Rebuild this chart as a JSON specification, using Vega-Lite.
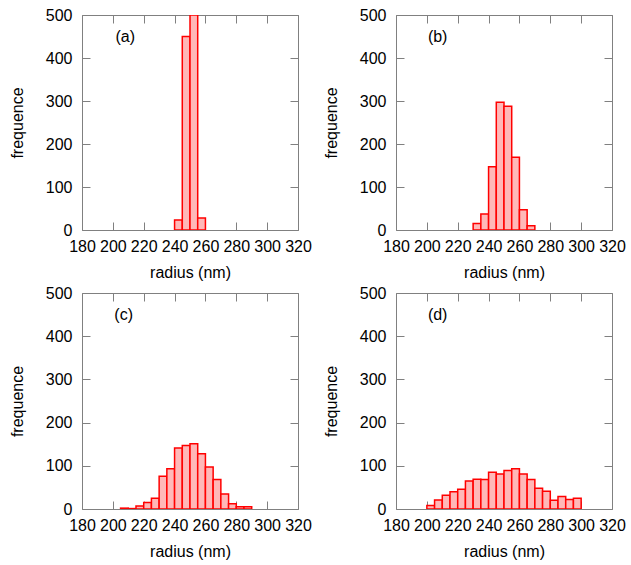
{
  "$schema": "https://vega.github.io/schema/vega-lite/v6.json",
  "background": "white",
  "padding": {"left": 8, "top": 6, "right": 2, "bottom": 5},
  "datasets": {
    "bars": [
      {"panel": "a", "lo": 240, "hi": 245, "count": 23},
      {"panel": "a", "lo": 245, "hi": 250, "count": 450},
      {"panel": "a", "lo": 250, "hi": 255, "count": 500},
      {"panel": "a", "lo": 255, "hi": 260, "count": 28},
      {"panel": "b", "lo": 230, "hi": 235, "count": 15},
      {"panel": "b", "lo": 235, "hi": 240, "count": 37},
      {"panel": "b", "lo": 240, "hi": 245, "count": 147},
      {"panel": "b", "lo": 245, "hi": 250, "count": 297},
      {"panel": "b", "lo": 250, "hi": 255, "count": 288},
      {"panel": "b", "lo": 255, "hi": 260, "count": 169},
      {"panel": "b", "lo": 260, "hi": 265, "count": 47},
      {"panel": "b", "lo": 265, "hi": 270, "count": 10},
      {"panel": "c", "lo": 205, "hi": 210, "count": 2},
      {"panel": "c", "lo": 210, "hi": 215, "count": 1},
      {"panel": "c", "lo": 215, "hi": 220, "count": 7},
      {"panel": "c", "lo": 220, "hi": 225, "count": 15},
      {"panel": "c", "lo": 225, "hi": 230, "count": 25},
      {"panel": "c", "lo": 230, "hi": 235, "count": 76},
      {"panel": "c", "lo": 235, "hi": 240, "count": 93},
      {"panel": "c", "lo": 240, "hi": 245, "count": 141},
      {"panel": "c", "lo": 245, "hi": 250, "count": 147},
      {"panel": "c", "lo": 250, "hi": 255, "count": 151},
      {"panel": "c", "lo": 255, "hi": 260, "count": 128},
      {"panel": "c", "lo": 260, "hi": 265, "count": 97},
      {"panel": "c", "lo": 265, "hi": 270, "count": 68},
      {"panel": "c", "lo": 270, "hi": 275, "count": 35},
      {"panel": "c", "lo": 275, "hi": 280, "count": 12},
      {"panel": "c", "lo": 280, "hi": 285, "count": 5},
      {"panel": "c", "lo": 285, "hi": 290, "count": 5},
      {"panel": "d", "lo": 200, "hi": 205, "count": 8},
      {"panel": "d", "lo": 205, "hi": 210, "count": 21},
      {"panel": "d", "lo": 210, "hi": 215, "count": 32},
      {"panel": "d", "lo": 215, "hi": 220, "count": 40},
      {"panel": "d", "lo": 220, "hi": 225, "count": 46},
      {"panel": "d", "lo": 225, "hi": 230, "count": 65},
      {"panel": "d", "lo": 230, "hi": 235, "count": 69},
      {"panel": "d", "lo": 235, "hi": 240, "count": 68},
      {"panel": "d", "lo": 240, "hi": 245, "count": 85},
      {"panel": "d", "lo": 245, "hi": 250, "count": 81},
      {"panel": "d", "lo": 250, "hi": 255, "count": 89},
      {"panel": "d", "lo": 255, "hi": 260, "count": 93},
      {"panel": "d", "lo": 260, "hi": 265, "count": 81},
      {"panel": "d", "lo": 265, "hi": 270, "count": 68},
      {"panel": "d", "lo": 270, "hi": 275, "count": 48},
      {"panel": "d", "lo": 275, "hi": 280, "count": 41},
      {"panel": "d", "lo": 280, "hi": 285, "count": 20},
      {"panel": "d", "lo": 285, "hi": 290, "count": 29},
      {"panel": "d", "lo": 290, "hi": 295, "count": 22},
      {"panel": "d", "lo": 295, "hi": 300, "count": 25}
    ],
    "labels": [
      {"panel": "a", "lx": 208, "ly": 450, "label": "(a)"},
      {"panel": "b", "lx": 207, "ly": 450, "label": "(b)"},
      {"panel": "c", "lx": 207, "ly": 450, "label": "(c)"},
      {"panel": "d", "lx": 207, "ly": 450, "label": "(d)"}
    ]
  },
  "columns": 2,
  "spacing": {"column": 10, "row": 3},
  "concat": [
    {
      "width": 216, "height": 215,
      "layer": [
        {
          "data": {"name": "bars"},
          "transform": [{"filter": "datum.panel == 'a'"}],
          "mark": {"type": "bar", "fill": "#ffb8b8", "stroke": "#ff0000", "strokeWidth": 1.5, "clip": true},
          "encoding": {
            "x": {"field": "lo", "type": "quantitative", "scale": {"domain": [180, 320], "nice": false, "zero": false}, "axis": {"orient": "bottom", "title": "radius (nm)", "values": [180, 200, 220, 240, 260, 280, 300, 320]}},
            "x2": {"field": "hi"},
            "y": {"field": "count", "type": "quantitative", "scale": {"domain": [0, 500], "nice": false}, "axis": {"orient": "left", "title": "frequence", "values": [0, 100, 200, 300, 400, 500]}},
            "y2": {"datum": 0}
          }
        },
        {
          "data": {"name": "bars"},
          "transform": [{"filter": "datum.panel == 'a'"}],
          "mark": {"type": "point", "opacity": 0},
          "encoding": {
            "x": {"field": "lo", "type": "quantitative", "axis": {"orient": "top", "labels": false, "title": null, "values": [180, 200, 220, 240, 260, 280, 300, 320]}},
            "y": {"field": "count", "type": "quantitative", "axis": {"orient": "right", "labels": false, "title": null, "values": [0, 100, 200, 300, 400, 500]}}
          }
        },
        {
          "data": {"name": "labels"},
          "transform": [{"filter": "datum.panel == 'a'"}],
          "mark": {"type": "text", "font": "Liberation Sans", "fontSize": 16, "color": "black"},
          "encoding": {
            "x": {"field": "lx", "type": "quantitative", "axis": null},
            "y": {"field": "ly", "type": "quantitative", "axis": null},
            "text": {"field": "label"}
          }
        }
      ],
      "resolve": {"axis": {"x": "independent", "y": "independent"}}
    },
    {
      "width": 216, "height": 215,
      "layer": [
        {
          "data": {"name": "bars"},
          "transform": [{"filter": "datum.panel == 'b'"}],
          "mark": {"type": "bar", "fill": "#ffb8b8", "stroke": "#ff0000", "strokeWidth": 1.5, "clip": true},
          "encoding": {
            "x": {"field": "lo", "type": "quantitative", "scale": {"domain": [180, 320], "nice": false, "zero": false}, "axis": {"orient": "bottom", "title": "radius (nm)", "values": [180, 200, 220, 240, 260, 280, 300, 320]}},
            "x2": {"field": "hi"},
            "y": {"field": "count", "type": "quantitative", "scale": {"domain": [0, 500], "nice": false}, "axis": {"orient": "left", "title": "frequence", "values": [0, 100, 200, 300, 400, 500]}},
            "y2": {"datum": 0}
          }
        },
        {
          "data": {"name": "bars"},
          "transform": [{"filter": "datum.panel == 'b'"}],
          "mark": {"type": "point", "opacity": 0},
          "encoding": {
            "x": {"field": "lo", "type": "quantitative", "axis": {"orient": "top", "labels": false, "title": null, "values": [180, 200, 220, 240, 260, 280, 300, 320]}},
            "y": {"field": "count", "type": "quantitative", "axis": {"orient": "right", "labels": false, "title": null, "values": [0, 100, 200, 300, 400, 500]}}
          }
        },
        {
          "data": {"name": "labels"},
          "transform": [{"filter": "datum.panel == 'b'"}],
          "mark": {"type": "text", "font": "Liberation Sans", "fontSize": 16, "color": "black"},
          "encoding": {
            "x": {"field": "lx", "type": "quantitative", "axis": null},
            "y": {"field": "ly", "type": "quantitative", "axis": null},
            "text": {"field": "label"}
          }
        }
      ],
      "resolve": {"axis": {"x": "independent", "y": "independent"}}
    },
    {
      "width": 216, "height": 216,
      "layer": [
        {
          "data": {"name": "bars"},
          "transform": [{"filter": "datum.panel == 'c'"}],
          "mark": {"type": "bar", "fill": "#ffb8b8", "stroke": "#ff0000", "strokeWidth": 1.5, "clip": true},
          "encoding": {
            "x": {"field": "lo", "type": "quantitative", "scale": {"domain": [180, 320], "nice": false, "zero": false}, "axis": {"orient": "bottom", "title": "radius (nm)", "values": [180, 200, 220, 240, 260, 280, 300, 320]}},
            "x2": {"field": "hi"},
            "y": {"field": "count", "type": "quantitative", "scale": {"domain": [0, 500], "nice": false}, "axis": {"orient": "left", "title": "frequence", "values": [0, 100, 200, 300, 400, 500]}},
            "y2": {"datum": 0}
          }
        },
        {
          "data": {"name": "bars"},
          "transform": [{"filter": "datum.panel == 'c'"}],
          "mark": {"type": "point", "opacity": 0},
          "encoding": {
            "x": {"field": "lo", "type": "quantitative", "axis": {"orient": "top", "labels": false, "title": null, "values": [180, 200, 220, 240, 260, 280, 300, 320]}},
            "y": {"field": "count", "type": "quantitative", "axis": {"orient": "right", "labels": false, "title": null, "values": [0, 100, 200, 300, 400, 500]}}
          }
        },
        {
          "data": {"name": "labels"},
          "transform": [{"filter": "datum.panel == 'c'"}],
          "mark": {"type": "text", "font": "Liberation Sans", "fontSize": 16, "color": "black"},
          "encoding": {
            "x": {"field": "lx", "type": "quantitative", "axis": null},
            "y": {"field": "ly", "type": "quantitative", "axis": null},
            "text": {"field": "label"}
          }
        }
      ],
      "resolve": {"axis": {"x": "independent", "y": "independent"}}
    },
    {
      "width": 216, "height": 216,
      "layer": [
        {
          "data": {"name": "bars"},
          "transform": [{"filter": "datum.panel == 'd'"}],
          "mark": {"type": "bar", "fill": "#ffb8b8", "stroke": "#ff0000", "strokeWidth": 1.5, "clip": true},
          "encoding": {
            "x": {"field": "lo", "type": "quantitative", "scale": {"domain": [180, 320], "nice": false, "zero": false}, "axis": {"orient": "bottom", "title": "radius (nm)", "values": [180, 200, 220, 240, 260, 280, 300, 320]}},
            "x2": {"field": "hi"},
            "y": {"field": "count", "type": "quantitative", "scale": {"domain": [0, 500], "nice": false}, "axis": {"orient": "left", "title": "frequence", "values": [0, 100, 200, 300, 400, 500]}},
            "y2": {"datum": 0}
          }
        },
        {
          "data": {"name": "bars"},
          "transform": [{"filter": "datum.panel == 'd'"}],
          "mark": {"type": "point", "opacity": 0},
          "encoding": {
            "x": {"field": "lo", "type": "quantitative", "axis": {"orient": "top", "labels": false, "title": null, "values": [180, 200, 220, 240, 260, 280, 300, 320]}},
            "y": {"field": "count", "type": "quantitative", "axis": {"orient": "right", "labels": false, "title": null, "values": [0, 100, 200, 300, 400, 500]}}
          }
        },
        {
          "data": {"name": "labels"},
          "transform": [{"filter": "datum.panel == 'd'"}],
          "mark": {"type": "text", "font": "Liberation Sans", "fontSize": 16, "color": "black"},
          "encoding": {
            "x": {"field": "lx", "type": "quantitative", "axis": null},
            "y": {"field": "ly", "type": "quantitative", "axis": null},
            "text": {"field": "label"}
          }
        }
      ],
      "resolve": {"axis": {"x": "independent", "y": "independent"}}
    }
  ],
  "config": {
    "view": {"stroke": "#808080", "strokeWidth": 1},
    "font": "Liberation Sans",
    "axis": {
      "domain": false,
      "grid": false,
      "tickColor": "#808080",
      "tickSize": -8,
      "tickWidth": 1,
      "labelFont": "Liberation Sans",
      "labelFontSize": 16,
      "labelColor": "black",
      "titleFont": "Liberation Sans",
      "titleFontSize": 16,
      "titleFontWeight": "normal",
      "titleColor": "black"
    },
    "axisX": {"labelFlush": false, "labelPadding": 16, "titlePadding": 10},
    "axisY": {"labelFlush": false, "labelPadding": 18, "titlePadding": 20}
  }
}
